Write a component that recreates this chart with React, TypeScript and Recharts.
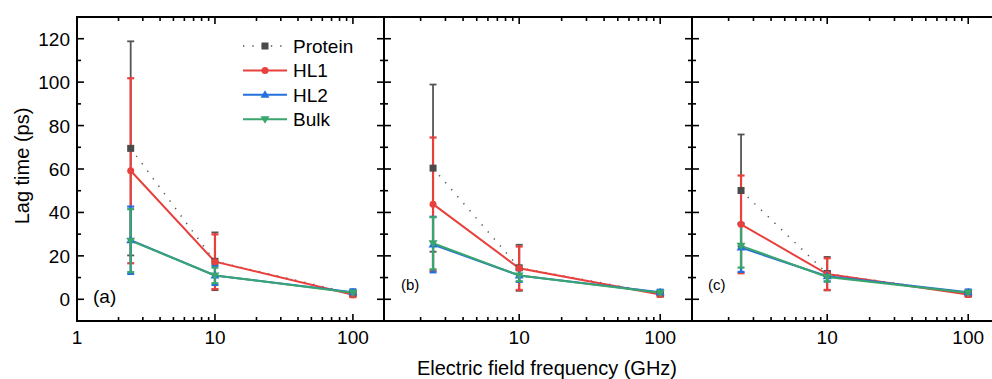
import React from 'react';
import { LineChart, Line, XAxis, YAxis, ErrorBar, Legend } from 'recharts';

// frequencies (GHz)
const freqs = [2.45, 10, 100];

// panel (a)
const proteinA = [69.5, 17.5, 2.6];
const proteinErrA = [49.3, 13.3, 0.8];
const hl1A = [59.2, 17.3, 2.1];
const hl1ErrA = [42.6, 12.6, 1.1];
const hl2A = [27.2, 11.0, 3.2];
const hl2ErrA = [15.5, 4.4, 1.4];
const bulkA = [27.0, 11.0, 3.0];
const bulkErrA = [14.5, 3.6, 0.9];

// panel (b)
const proteinB = [60.4, 14.5, 2.6];
const proteinErrB = [38.5, 10.6, 0.8];
const hl1B = [43.8, 14.3, 2.2];
const hl1ErrB = [30.7, 10.0, 1.0];
const hl2B = [25.2, 11.0, 3.2];
const hl2ErrB = [12.8, 3.0, 1.2];
const bulkB = [25.8, 11.0, 3.0];
const bulkErrB = [12.0, 2.7, 0.9];

// panel (c)
const proteinC = [50.1, 11.8, 2.6];
const proteinErrC = [25.8, 7.7, 0.8];
const hl1C = [34.5, 11.6, 2.2];
const hl1ErrC = [22.5, 7.3, 1.0];
const hl2C = [23.8, 10.6, 3.2];
const hl2ErrC = [11.2, 2.4, 1.3];
const bulkC = [24.6, 10.3, 3.0];
const bulkErrC = [10.0, 2.1, 0.9];

const xMajors = [1, 10, 100];
const xMinors = [2, 3, 4, 5, 6, 7, 8, 9, 20, 30, 40, 50, 60, 70, 80, 90];
const yMajors = [0, 20, 40, 60, 80, 100, 120];
const yMinors = [10, 30, 50, 70, 90, 110];

const seriesNames = ['Protein', 'HL1', 'HL2', 'Bulk'];

const C_PROTEIN = '#4a4a4a';
const C_HL1 = '#e8403c';
const C_HL2 = '#2470dc';
const C_BULK = '#3aa56c';
const PROTEIN_DASH = '1.3 8';

const FONT = '"Liberation Sans", Arial, sans-serif';
const H = 379;
const PLOT_TOP = 17;
const PLOT_BOTTOM = 321;

const makeRows = (p: number[], pe: number[], a: number[], ae: number[], b: number[], be: number[], k: number[], ke: number[]) =>
  freqs.map((f, i) => ({
    f,
    protein: p[i], proteinErr: pe[i],
    hl1: a[i], hl1Err: ae[i],
    hl2: b[i], hl2Err: be[i],
    bulk: k[i], bulkErr: ke[i],
  }));

const rowsA = makeRows(proteinA, proteinErrA, hl1A, hl1ErrA, hl2A, hl2ErrA, bulkA, bulkErrA);
const rowsB = makeRows(proteinB, proteinErrB, hl1B, hl1ErrB, hl2B, hl2ErrB, bulkB, bulkErrB);
const rowsC = makeRows(proteinC, proteinErrC, hl1C, hl1ErrC, hl2C, hl2ErrC, bulkC, bulkErrC);

const squareDot = (color: string) => (props: any) => {
  const { cx, cy, index } = props;
  if (cx == null || cy == null) return <g key={`s${index}`} />;
  return <rect key={`s${index}`} x={cx - 3.5} y={cy - 3.5} width={7} height={7} fill={color} />;
};
const circleDot = (color: string) => (props: any) => {
  const { cx, cy, index } = props;
  if (cx == null || cy == null) return <g key={`c${index}`} />;
  return <circle key={`c${index}`} cx={cx} cy={cy} r={3.5} fill={color} />;
};
const triDot = (color: string, up: boolean) => (props: any) => {
  const { cx, cy, index } = props;
  if (cx == null || cy == null) return <g key={`t${index}`} />;
  const d = up
    ? `M${cx},${cy - 4.5}L${cx + 4.5},${cy + 3}L${cx - 4.5},${cy + 3}Z`
    : `M${cx},${cy + 4.5}L${cx + 4.5},${cy - 3}L${cx - 4.5},${cy - 3}Z`;
  return <path key={`t${index}`} d={d} fill={color} />;
};

type Side = 'bottom' | 'top' | 'left' | 'right';

const makeTick = (side: Side, majors: number[], labels: boolean) => (props: any) => {
  const { x, y, payload, index } = props;
  const v = payload.value;
  const major = majors.includes(v);
  const len = major ? 7 : 4;
  let line;
  if (side === 'bottom') line = <line x1={x} y1={y} x2={x} y2={y - len} stroke="#000" strokeWidth={1.6} />;
  else if (side === 'top') line = <line x1={x} y1={y} x2={x} y2={y + len} stroke="#000" strokeWidth={1.6} />;
  else if (side === 'left') line = <line x1={x} y1={y} x2={x + len} y2={y} stroke="#000" strokeWidth={1.6} />;
  else line = <line x1={x} y1={y} x2={x - len} y2={y} stroke="#000" strokeWidth={1.6} />;
  let label = null;
  if (labels && major) {
    if (side === 'bottom')
      label = <text x={x} y={y + 23} textAnchor="middle" fontSize={19} fontFamily={FONT} fill="#000">{v}</text>;
    if (side === 'left')
      label = <text x={x - 7} y={y + 7} textAnchor="end" fontSize={19} fontFamily={FONT} fill="#000">{v}</text>;
  }
  return (
    <g key={`${side}${index}`}>
      {line}
      {label}
    </g>
  );
};

const legendStyles = [
  { name: seriesNames[0], color: C_PROTEIN, dash: PROTEIN_DASH, shape: 'square' },
  { name: seriesNames[1], color: C_HL1, dash: undefined, shape: 'circle' },
  { name: seriesNames[2], color: C_HL2, dash: undefined, shape: 'up' },
  { name: seriesNames[3], color: C_BULK, dash: undefined, shape: 'down' },
];

function LegendBox() {
  return (
    <svg width={140} height={100}>
      {legendStyles.map((s, i) => {
        const cy = 13 + i * 24.4;
        const mx = 25;
        let marker;
        if (s.shape === 'square') marker = <rect x={mx - 3.5} y={cy - 3.5} width={7} height={7} fill={s.color} />;
        else if (s.shape === 'circle') marker = <circle cx={mx} cy={cy} r={3.5} fill={s.color} />;
        else if (s.shape === 'up') marker = <path d={`M${mx},${cy - 4.5}L${mx + 4.5},${cy + 3}L${mx - 4.5},${cy + 3}Z`} fill={s.color} />;
        else marker = <path d={`M${mx},${cy + 4.5}L${mx + 4.5},${cy - 3}L${mx - 4.5},${cy - 3}Z`} fill={s.color} />;
        return (
          <g key={s.name}>
            <line x1={3} y1={cy} x2={47} y2={cy} stroke={s.color} strokeWidth={s.dash ? 1.5 : 2} strokeDasharray={s.dash} />
            {marker}
            <text x={53} y={cy + 7} fontSize={19} fontFamily={FONT} fill="#000">{s.name}</text>
          </g>
        );
      })}
    </svg>
  );
}

type PanelProps = {
  rows: any[];
  plotLeft: number;
  plotWidth: number;
  domain: [number, number];
  padLeft: number;
  showYLabels: boolean;
  showLegend?: boolean;
};

function Panel({ rows, plotLeft, plotWidth, domain, padLeft, showYLabels, showLegend }: PanelProps) {
  const padRight = 12;
  const width = plotWidth + padLeft + padRight;
  const xTicks = [...xMajors, ...xMinors].filter((v) => v >= domain[0] && v <= domain[1]).sort((a, b) => a - b);
  const yTicks = [...yMajors, ...yMinors].sort((a, b) => a - b);
  const axisLine = { stroke: '#000', strokeWidth: 2, strokeLinecap: 'square' as const };
  // axes are 1px thick boxes so the axis line lands on the plot edge
  return (
    <div style={{ position: 'absolute', left: plotLeft - padLeft, top: 0 }}>
      <LineChart
        width={width}
        height={H}
        data={rows}
        margin={{ top: PLOT_TOP - 1, bottom: H - PLOT_BOTTOM - 1, left: padLeft - 1, right: padRight - 1 }}
      >
        <XAxis xAxisId="b" type="number" dataKey="f" scale="log" domain={domain} allowDataOverflow ticks={xTicks} interval={0}
          height={1} tickSize={0} tickMargin={0} tickLine={false} axisLine={axisLine} tick={makeTick('bottom', xMajors, true)} />
        <XAxis xAxisId="t" orientation="top" type="number" dataKey="f" scale="log" domain={domain} allowDataOverflow ticks={xTicks} interval={0}
          height={1} tickSize={0} tickMargin={0} tickLine={false} axisLine={axisLine} tick={makeTick('top', xMajors, false)} />
        <YAxis yAxisId="l" type="number" domain={[-10, 130]} allowDataOverflow ticks={yTicks} interval={0}
          width={1} tickSize={0} tickMargin={0} tickLine={false} axisLine={axisLine} tick={makeTick('left', yMajors, showYLabels)} />
        <YAxis yAxisId="r" orientation="right" type="number" domain={[-10, 130]} allowDataOverflow ticks={yTicks} interval={0}
          width={1} tickSize={0} tickMargin={0} tickLine={false} axisLine={axisLine} tick={makeTick('right', yMajors, false)} />

        <Line xAxisId="b" yAxisId="l" name="Protein" dataKey="protein" stroke="#555" strokeWidth={1.5}
          strokeDasharray={PROTEIN_DASH} dot={squareDot(C_PROTEIN)} activeDot={false} isAnimationActive={false}>
          <ErrorBar dataKey="proteinErr" direction="y" width={3.5} stroke="#555" strokeWidth={1.8} isAnimationActive={false} />
        </Line>
        <Line xAxisId="b" yAxisId="l" name="HL1" dataKey="hl1" stroke={C_HL1} strokeWidth={2}
          dot={circleDot(C_HL1)} activeDot={false} isAnimationActive={false}>
          <ErrorBar dataKey="hl1Err" direction="y" width={3.5} stroke={C_HL1} strokeWidth={2.2} isAnimationActive={false} />
        </Line>
        <Line xAxisId="b" yAxisId="l" name="HL2" dataKey="hl2" stroke={C_HL2} strokeWidth={2}
          dot={triDot(C_HL2, true)} activeDot={false} isAnimationActive={false}>
          <ErrorBar dataKey="hl2Err" direction="y" width={3.5} stroke={C_HL2} strokeWidth={2.2} isAnimationActive={false} />
        </Line>
        <Line xAxisId="b" yAxisId="l" name="Bulk" dataKey="bulk" stroke={C_BULK} strokeWidth={2}
          dot={triDot(C_BULK, false)} activeDot={false} isAnimationActive={false}>
          <ErrorBar dataKey="bulkErr" direction="y" width={3.5} stroke={C_BULK} strokeWidth={2.2} isAnimationActive={false} />
        </Line>

        {showLegend && (
          <Legend layout="vertical" align="center" verticalAlign="middle" content={() => <LegendBox />}
            wrapperStyle={{ left: 240 - (plotLeft - padLeft), top: 33, width: 140, height: 100 }} />
        )}
      </LineChart>
    </div>
  );
}

export default function App() {
  return (
    <div style={{ position: 'absolute', left: 0, top: 0, width: 992, height: H, overflow: 'hidden', background: '#fff' }}>
      <Panel rows={rowsA} plotLeft={77} plotWidth={307} domain={[1, 168]} padLeft={70} showYLabels showLegend />
      <Panel rows={rowsB} plotLeft={384} plotWidth={308} domain={[1.1, 168]} padLeft={10} showYLabels={false} />
      <Panel rows={rowsC} plotLeft={692} plotWidth={308} domain={[1.1, 168]} padLeft={10} showYLabels={false} />
      <svg width={992} height={H} style={{ position: 'absolute', left: 0, top: 0, pointerEvents: 'none' }}>
        <text x={29} y={166} transform="rotate(-90 29 166)" textAnchor="middle" fontSize={20} fontFamily={FONT} fill="#000">
          Lag time (ps)
        </text>
        <text x={547} y={375} textAnchor="middle" fontSize={20} fontFamily={FONT} fill="#000">
          Electric field frequency (GHz)
        </text>
        <text x={93} y={303} fontSize={19} fontFamily={FONT} fill="#000">(a)</text>
        <text x={401} y={290} fontSize={15} fontFamily={FONT} fill="#000">(b)</text>
        <text x={708} y={290} fontSize={15} fontFamily={FONT} fill="#000">(c)</text>
      </svg>
    </div>
  );
}
